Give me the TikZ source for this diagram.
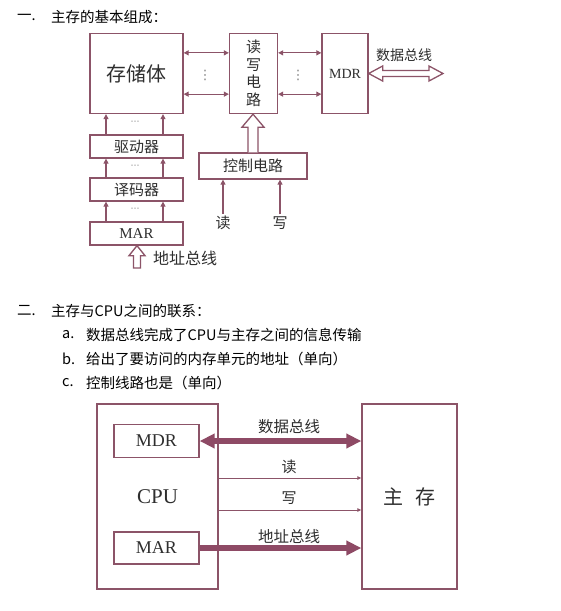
\documentclass[tikz,border=0pt]{standalone}
\usepackage{fontspec}
\setmainfont{Liberation Serif}
\newfontfamily\cjk{Noto Sans CJK SC}
\newfontfamily\dejavu{DejaVu Sans}
\usetikzlibrary{arrows.meta,calc}
\definecolor{boxc}{HTML}{8C5468}
\definecolor{busc}{HTML}{8E4A65}
\definecolor{txt}{HTML}{2E2E2E}
\definecolor{dotc}{HTML}{808080}
\newcommand\fsz[1]{\fontsize{#1}{#1}\selectfont}
\begin{document}
\begin{tikzpicture}[x=1pt,y=-1pt,
  box/.style={draw=boxc,line width=1.3pt,inner sep=0pt,text=txt,fill=white},
  thinarr/.style={draw=boxc,line width=1.2pt,-{Triangle[length=5pt,width=5pt]}},
  dblarr/.style={draw=boxc,line width=1.2pt,{Triangle[length=5pt,width=5pt]}-{Triangle[length=5pt,width=5pt]}},
  hollow/.style={draw=boxc,line width=1.3pt,fill=white,line join=miter},
  bus/.style={draw=busc,line width=5.5pt},
  bustip/.style={bus,-{Triangle[length=15pt,width=14pt]}},
  busdbl/.style={bus,{Triangle[length=15pt,width=14pt]}-{Triangle[length=15pt,width=14pt]}},
  lbl/.style={inner sep=0pt,text=txt},
  dots/.style={inner sep=0pt,text=dotc,font=\dejavu\fsz{9}},
  head/.style={inner sep=0pt,anchor=west,text=black}]
\useasboundingbox[fill=white] (0,0) rectangle (561,611);

% ---------- section 1 heading ----------
\node[head] (h1n) at (17,17) {\cjk\fsz{14.5}一.};
\node[head] (h1) at (51,17) {\cjk\fsz{14.5}主存的基本组成：};

% ---------- top diagram ----------
\node[box,minimum width=93pt,minimum height=80pt] (mem) at (136.5,73.5) {\cjk\fsz{20}存储体};
\node[box,minimum width=48pt,minimum height=80pt,align=center,
      font={\cjk\fontsize{15}{17.5}\selectfont}] (rw) at (253.5,73.5)
  {读\\写\\电\\路};
\node[box,minimum width=46pt,minimum height=80pt] (mdr1) at (345,73.5) {\fsz{14}MDR};
\node[box,minimum width=93pt,minimum height=23pt] (drv) at (136.5,146.5) {\cjk\fsz{15}驱动器};
\node[box,minimum width=93pt,minimum height=23pt] (dec) at (136.5,189.5) {\cjk\fsz{15}译码器};
\node[box,minimum width=93pt,minimum height=23pt] (mar1) at (136.5,233.5) {\fsz{15}MAR};
\node[box,minimum width=108pt,minimum height=26pt] (ctrl) at (253,166) {\cjk\fsz{15}控制电路};
\node[lbl] (rd1) at (223,223) {\cjk\fsz{15}读};
\node[lbl] (wr1) at (280,223) {\cjk\fsz{15}写};
\node[lbl] (dbus1) at (404,55) {\cjk\fsz{14}数据总线};
\node[lbl,anchor=west] (abus1) at (153,258) {\cjk\fsz{16}地址总线};
\coordinate (dbend) at (443,73.5);
\coordinate (abus) at (137,268);

% dots
\node[dots,font=\dejavu\fsz{13}] (v1) at (205,75) {⋮};
\node[dots,font=\dejavu\fsz{13}] (v2) at (298,75) {⋮};
\node[dots] (h1d) at (135,123) {⋯};
\node[dots] (h2d) at (135,166.5) {⋯};
\node[dots] (h3d) at (135,210) {⋯};

% horizontal double arrows
\coordinate (a1) at ([yshift=-20pt]mem.north east);
\coordinate (a2) at ([yshift=20pt]mem.south east);
\draw[dblarr] (a1) -- (a1 -| rw.west);
\draw[dblarr] (a2) -- (a2 -| rw.west);
\coordinate (b1) at ([yshift=-20pt]rw.north east);
\coordinate (b2) at ([yshift=20pt]rw.south east);
\draw[dblarr] (b1) -- (b1 -| mdr1.west);
\draw[dblarr] (b2) -- (b2 -| mdr1.west);

% vertical arrows in left column
\foreach \s/\t in {mar1/dec,dec/drv,drv/mem}{
  \draw[thinarr] ([xshift=-30.5pt]\s.north) -- ([xshift=-30.5pt]\t.south);
  \draw[thinarr] ([xshift=26.5pt]\s.north) -- ([xshift=26.5pt]\t.south);
}

% read/write into control
\draw[thinarr] ([yshift=2pt]rd1.north) -- (rd1.north |- ctrl.south);
\draw[thinarr] ([yshift=2pt]wr1.north) -- (wr1.north |- ctrl.south);

% hollow arrow control -> read/write circuit
\draw[hollow] let \p1=(ctrl.north), \p2=(rw.south) in
  (\x1-5pt,\y1) -- (\x1-5pt,\y2-13pt) -- (\x1-11pt,\y2-13pt) -- (\x1,\y2)
  -- (\x1+11pt,\y2-13pt) -- (\x1+5pt,\y2-13pt) -- (\x1+5pt,\y1);

% hollow address arrow into MAR
\draw[hollow] let \p1=(abus), \p2=(mar1.south) in
  (\x1-3.5pt,\y1) -- (\x1-3.5pt,\y2-10pt) -- (\x1-8pt,\y2-10pt) -- (\x1,\y2)
  -- (\x1+8pt,\y2-10pt) -- (\x1+3.5pt,\y2-10pt) -- (\x1+3.5pt,\y1) -- cycle;

% hollow double data bus arrow
\draw[hollow] let \p1=(mdr1.east), \p2=(dbend) in
  (\x1,\y1) -- (\x1+14pt,\y1+7.5pt) -- (\x1+14pt,\y1+3pt) -- (\x2-14pt,\y1+3pt)
  -- (\x2-14pt,\y1+7.5pt) -- (\x2,\y1) -- (\x2-14pt,\y1-7.5pt) -- (\x2-14pt,\y1-3pt)
  -- (\x1+14pt,\y1-3pt) -- (\x1+14pt,\y1-7.5pt) -- cycle;

% ---------- section 2 text ----------
\node[head] (h2n) at (17,311) {\cjk\fsz{14.5}二.};
\node[head] (h2) at (51,311) {\cjk\fsz{14.5}主存与CPU之间的联系：};
\node[head] (ia) at (62,334.5) {\cjk\fsz{14.5}a.};
\node[head] (ta) at (86,334.5) {\cjk\fsz{14.5}数据总线完成了CPU与主存之间的信息传输};
\node[head] (ib) at (62,358.5) {\cjk\fsz{14.5}b.};
\node[head] (tb) at (86,358.5) {\cjk\fsz{14.5}给出了要访问的内存单元的地址（单向）};
\node[head] (ic) at (62,383) {\cjk\fsz{14.5}c.};
\node[head] (tc) at (86,383) {\cjk\fsz{14.5}控制线路也是（单向）};

% ---------- bottom diagram ----------
\node[box,minimum width=121pt,minimum height=185pt] (cpu) at (157.5,496.5) {\fsz{21}CPU};
\node[box,minimum width=95pt,minimum height=185pt] (mem2) at (409.5,496.5) {\cjk\fsz{20}主\hspace{12pt}存};
\node[box,minimum width=85pt,minimum height=33pt] (mdr2) at (156.5,441) {\fsz{18}MDR};
\node[box,minimum width=85pt,minimum height=32pt] (mar2) at (156.5,548) {\fsz{18}MAR};

\draw[busdbl] (mdr2.east) -- (mdr2.east -| mem2.west);
\draw[bustip] (mar2.east) -- (mar2.east -| mem2.west);
\coordinate (rdl) at ([yshift=18.5pt]cpu.east);
\coordinate (wrl) at ([yshift=-13.5pt]cpu.east);
\draw[boxc,line width=1pt,-{Triangle[length=4pt,width=3.5pt]}] (rdl) -- (rdl -| mem2.west);
\draw[boxc,line width=1pt,-{Triangle[length=4pt,width=3.5pt]}] (wrl) -- (wrl -| mem2.west);

\node[lbl] (dbus2) at (289,427) {\cjk\fsz{15.5}数据总线};
\node[lbl] (rd2) at (289,467) {\cjk\fsz{15}读};
\node[lbl] (wr2) at (289,498) {\cjk\fsz{15}写};
\node[lbl] (abus2) at (289,537) {\cjk\fsz{15.5}地址总线};
\end{tikzpicture}
\end{document}
